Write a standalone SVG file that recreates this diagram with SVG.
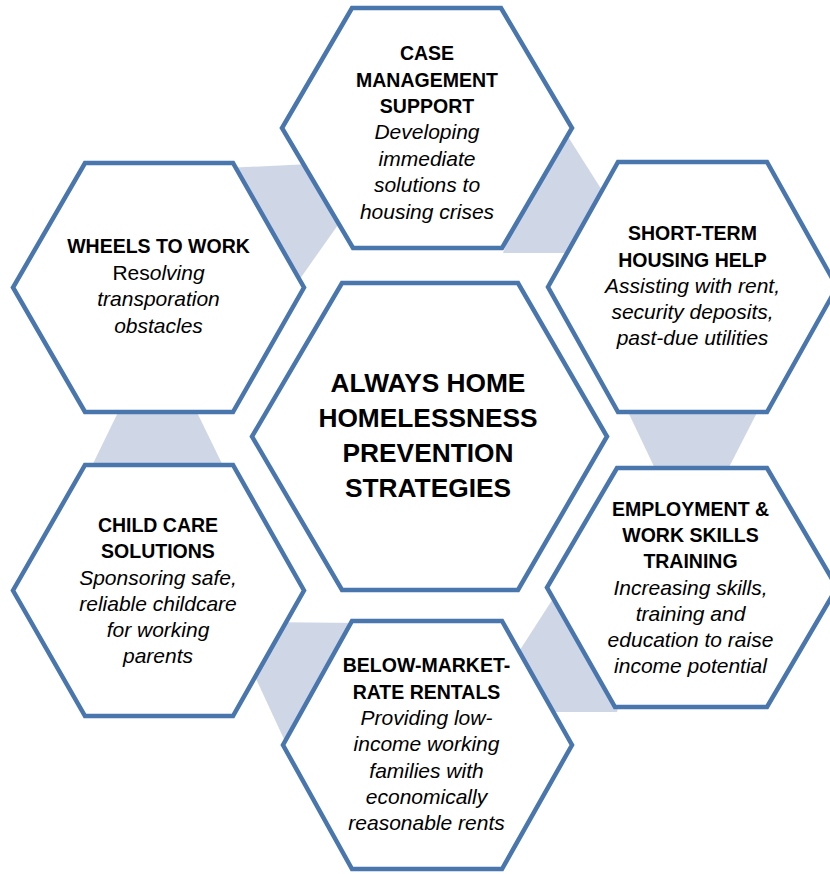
<svg xmlns="http://www.w3.org/2000/svg" width="830" height="874" viewBox="0 0 830 874">
<style>
.hex{fill:#ffffff;stroke:#4A76AE;stroke-width:4.5;stroke-linejoin:miter}
.band{fill:#CFD7E7;stroke:none}
text{font-family:"Liberation Sans",Arial,sans-serif;fill:#000000;text-anchor:middle}
.t{font-weight:bold;font-size:19.5px}
.d{font-style:italic;font-size:21px}
.c{font-weight:bold;font-size:26.3px}
.u{font-style:normal}
</style>
<rect width="830" height="874" fill="#ffffff"/>
<g id="connectors">
<polygon class="band" points="225,168 310,164 345,215 290,293"/>
<polygon class="band" points="540,150 560,124 612,206 585,253 503,253"/>
<polygon class="band" points="620,395 766,395 725,475 658,475"/>
<polygon class="band" points="125,398 190,398 230,480 85,480"/>
<polygon class="band" points="260,622 360,623 289,750 238,640"/>
<polygon class="band" points="565,580 630,660 617,712 540,712 507,670"/>
</g>
<g id="case-management">
<polygon class="hex" points="352,8 501,8 572,128 502,248 353,248 282,128"/>
<text class="t" x="427" y="60">CASE</text>
<text class="t" x="427" y="86.5">MANAGEMENT</text>
<text class="t" x="427" y="113">SUPPORT</text>
<text class="d" x="427" y="139">Developing</text>
<text class="d" x="427" y="165.5">immediate</text>
<text class="d" x="427" y="192">solutions to</text>
<text class="d" x="427" y="218.5">housing crises</text>
</g>
<g id="wheels-to-work">
<polygon class="hex" points="85,163 233,163 304,287.5 233,412 85,412 13,287.5"/>
<text class="t" x="158.5" y="253">WHEELS TO WORK</text>
<text class="d" x="158.5" y="279.5"><tspan class="u">Res</tspan>olving</text>
<text class="d" x="158.5" y="306">transporation</text>
<text class="d" x="158.5" y="332.5">obstacles</text>
</g>
<g id="short-term-housing">
<polygon class="hex" points="618,162 767,162 837,287 767,412 618,412 548,287"/>
<text class="t" x="692.5" y="240">SHORT-TERM</text>
<text class="t" x="692.5" y="266.5">HOUSING HELP</text>
<text class="d" x="692.5" y="292.5">Assisting with rent,</text>
<text class="d" x="692.5" y="318.5">security deposits,</text>
<text class="d" x="692.5" y="344.5">past-due utilities</text>
</g>
<g id="center">
<polygon class="hex" points="342,283 518,283 607,436.5 518,590 342,590 252,436.5"/>
<text class="c" x="428" y="392">ALWAYS HOME</text>
<text class="c" x="428" y="427">HOMELESSNESS</text>
<text class="c" x="428" y="462">PREVENTION</text>
<text class="c" x="428" y="497">STRATEGIES</text>
</g>
<g id="child-care">
<polygon class="hex" points="85,465 233,465 304,590.5 233,716 85,716 13,590.5"/>
<text class="t" x="158" y="532">CHILD CARE</text>
<text class="t" x="158" y="558">SOLUTIONS</text>
<text class="d" x="158" y="584.5">Sponsoring safe,</text>
<text class="d" x="158" y="610.5">reliable childcare</text>
<text class="d" x="158" y="636.5">for working</text>
<text class="d" x="158" y="662.5">parents</text>
</g>
<g id="employment">
<polygon class="hex" points="617,468 767,468 837,587.5 767,707 615,707 547,587.5"/>
<text class="t" x="690.5" y="516">EMPLOYMENT &amp;</text>
<text class="t" x="690.5" y="542">WORK SKILLS</text>
<text class="t" x="690.5" y="568">TRAINING</text>
<text class="d" x="690.5" y="594.5">Increasing skills,</text>
<text class="d" x="690.5" y="620.5">training and</text>
<text class="d" x="690.5" y="646.5">education to raise</text>
<text class="d" x="690.5" y="672.5">income potential</text>
</g>
<g id="below-market">
<polygon class="hex" points="352,621 502,621 572,745 502,869 352,869 283,745"/>
<text class="t" x="426.5" y="672">BELOW-MARKET-</text>
<text class="t" x="426.5" y="698.5">RATE RENTALS</text>
<text class="d" x="426.5" y="725">Providing low-</text>
<text class="d" x="426.5" y="751">income working</text>
<text class="d" x="426.5" y="777.5">families with</text>
<text class="d" x="426.5" y="803.5">economically</text>
<text class="d" x="426.5" y="830">reasonable rents</text>
</g>
</svg>
